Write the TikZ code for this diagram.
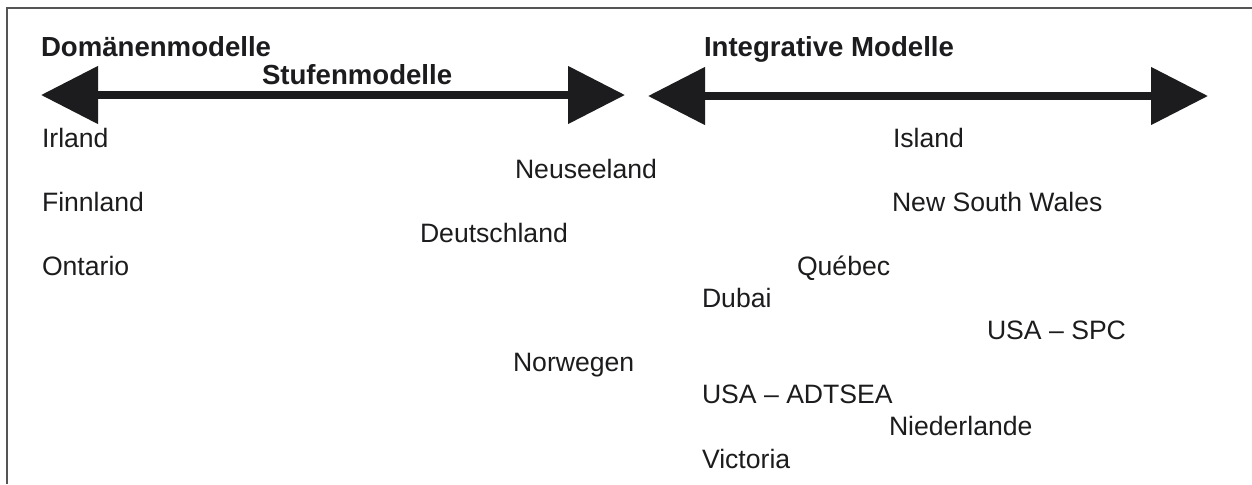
\documentclass[tikz,border=0pt]{standalone}
\usepackage{fontspec}
\setmainfont{Liberation Sans}
\usetikzlibrary{arrows.meta}
\definecolor{ink}{HTML}{1C1B1D}
\definecolor{framegray}{HTML}{555555}
\tikzset{
  lbl/.style={anchor=base west, inner sep=0pt, outer sep=0pt, text=ink, font=\fontsize{13.3}{15}\selectfont},
  head/.style={lbl, font=\fontsize{13.8}{15}\selectfont\bfseries},
  bigarrow/.style={draw=ink, line width=4pt, {Triangle[length=28.5pt, width=28pt]}-{Triangle[length=28.5pt, width=28pt]}},
  frameline/.style={draw=framegray, line width=0.75pt}
}
\begin{document}
\begin{tikzpicture}[x=0.5pt, y=-0.5pt]
\useasboundingbox (0,0) rectangle (1252,484);
% frame (top and left edges)
\coordinate (fTR) at (1252,8);
\coordinate (fTL) at (7,8);
\coordinate (fBL) at (7,484);
\draw[frameline] (fTR) -- (fTL) -- (fBL);
% arrows
\coordinate (a1L) at (41,95);
\coordinate (a1R) at (625,95);
\coordinate (a2L) at (648,96);
\coordinate (a2R) at (1208,96);
\draw[bigarrow] (a1L) -- (a1R);
\draw[bigarrow] (a2L) -- (a2R);
% headings
\node[head] (dom) at (41,56) {Domänenmodelle};
\node[head] (stu) at (262,84) {Stufenmodelle};
\node[head] (int) at (704,56) {Integrative Modelle};
% countries
\node[lbl] (irl) at (42,147) {Irland};
\node[lbl] (isl) at (893,147) {Island};
\node[lbl] (nz)  at (515,178) {Neuseeland};
\node[lbl] (fin) at (42,211) {Finnland};
\node[lbl] (nsw) at (892,211) {New South Wales};
\node[lbl] (de)  at (420,242) {Deutschland};
\node[lbl] (ont) at (42,275) {Ontario};
\node[lbl] (que) at (797,275) {Québec};
\node[lbl] (dub) at (702,307) {Dubai};
\node[lbl] (spc) at (987,339) {USA – SPC};
\node[lbl] (nor) at (513,371) {Norwegen};
\node[lbl] (adt) at (702,403) {USA – ADTSEA};
\node[lbl] (nl)  at (889,435) {Niederlande};
\node[lbl] (vic) at (702,468) {Victoria};
\end{tikzpicture}
\end{document}
